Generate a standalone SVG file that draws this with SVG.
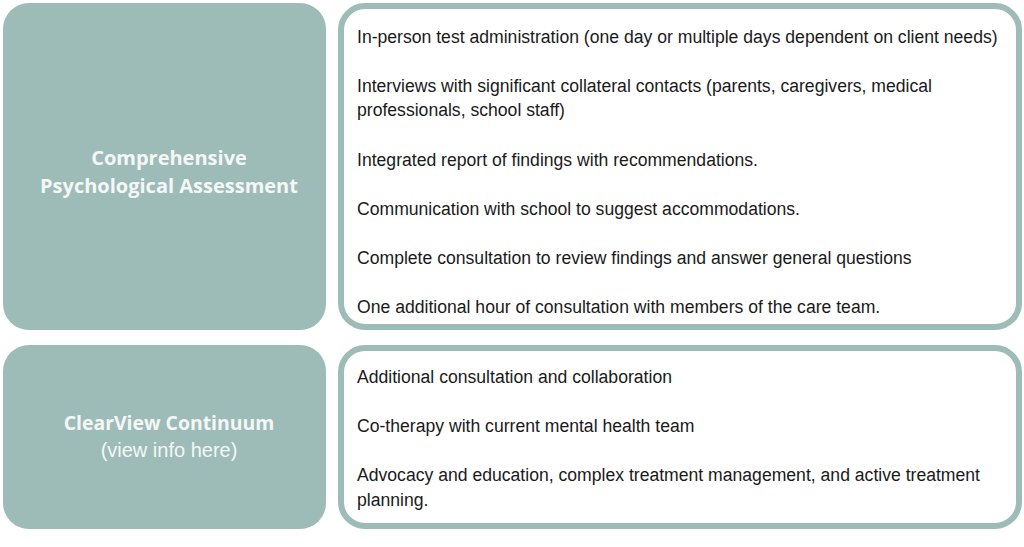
<svg xmlns="http://www.w3.org/2000/svg" width="1024" height="547" viewBox="0 0 1024 547">
<style>
.l{fill:#9dbcb8}
.r{fill:#fff;stroke:#9dbcb8;stroke-width:6}
.t{font-family:"Liberation Sans",Arial,sans-serif;font-size:17.6px;fill:#1a1a1a}
.h{font-family:"Open Sans",sans-serif;font-size:20px;font-weight:bold;fill:#f4f7f6;text-anchor:middle}
.s{font-family:"Liberation Sans",Arial,sans-serif;font-size:20px;fill:#f4f7f6;text-anchor:middle}
</style>
<rect width="1024" height="547" fill="#fff"/>
<g id="n1"><rect class="l" x="3" y="3" width="323" height="327" rx="26"/>
<text class="h" x="169" y="165">Comprehensive</text><text class="h" x="169" y="193">Psychological Assessment</text></g>
<g id="n2"><rect class="r" x="341" y="6" width="678" height="321" rx="24"/>
<g class="t"><text x="357" y="43">In-person test administration (one day or multiple days dependent on client needs)</text>
<text x="357" y="92">Interviews with significant collateral contacts (parents, caregivers, medical</text>
<text x="357" y="116">professionals, school staff)</text>
<text x="357" y="166">Integrated report of findings with recommendations.</text>
<text x="357" y="215">Communication with school to suggest accommodations.</text>
<text x="357" y="264">Complete consultation to review findings and answer general questions</text>
<text x="357" y="313">One additional hour of consultation with members of the care team.</text></g></g>
<g id="n3"><rect class="l" x="3" y="345" width="323" height="184" rx="26"/>
<text class="h" x="169" y="430" style="font-size:19.4px">ClearView Continuum</text><text class="s" x="169" y="457">(view info here)</text></g>
<g id="n4"><rect class="r" x="341" y="348" width="678" height="178" rx="24"/>
<g class="t"><text x="357" y="383">Additional consultation and collaboration</text>
<text x="357" y="432">Co-therapy with current mental health team</text>
<text x="357" y="481">Advocacy and education, complex treatment management, and active treatment</text>
<text x="357" y="506">planning.</text></g></g>
<g id="connectors"/>
</svg>
